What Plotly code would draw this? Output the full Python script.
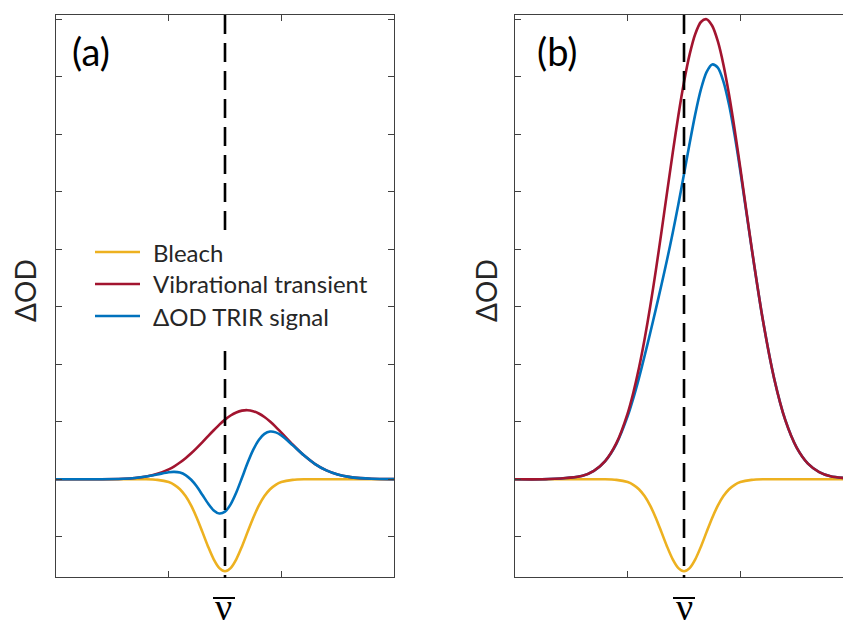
import plotly.graph_objects as go

# Wavenumber grid (arbitrary units, line centre at 1.5)
x_nu = [0.0, 0.3, 0.6, 0.7, 0.8, 0.9, 1.0, 1.05, 1.1, 1.15, 1.2, 1.25, 1.3, 1.35,
        1.4, 1.45, 1.5, 1.55, 1.6, 1.65, 1.7, 1.75, 1.8, 1.85, 1.9, 1.95, 2.0,
        2.1, 2.2, 2.3, 2.4, 2.5, 2.6, 2.7, 2.8, 3.0]

# Ground-state bleach (same in both panels)
bleach = [0.0, 0.0, 0.0, 0.0, 0.0, -0.011, -0.05, -0.097, -0.174, -0.293, -0.46,
          -0.673, -0.92, -1.172, -1.393, -1.545, -1.6, -1.545, -1.393, -1.172,
          -0.92, -0.673, -0.46, -0.293, -0.174, -0.097, -0.05, -0.011, 0.0, 0.0,
          0.0, 0.0, 0.0, 0.0, 0.0, 0.0]

# Vibrational transient, weak (a) and strong (b)
transient_a = [0.0, 0.0, 0.009, 0.022, 0.047, 0.094, 0.172, 0.225, 0.29, 0.365,
               0.45, 0.545, 0.645, 0.749, 0.851, 0.949, 1.036, 1.108, 1.161,
               1.192, 1.2, 1.182, 1.142, 1.081, 1.002, 0.911, 0.811, 0.604,
               0.415, 0.263, 0.153, 0.082, 0.041, 0.019, 0.008, 0.001]
transient_b = [0.0, 0.003, 0.062, 0.146, 0.315, 0.626, 1.146, 1.503, 1.932, 2.434,
               3.002, 3.63, 4.3, 4.991, 5.676, 6.324, 6.904, 7.385, 7.74, 7.948,
               7.997, 7.883, 7.614, 7.206, 6.682, 6.071, 5.405, 4.028, 2.767,
               1.752, 1.022, 0.55, 0.272, 0.125, 0.052, 0.007]

line_centre = 1.5
legend_labels = ["Bleach", "Vibrational transient", "\u0394OD TRIR signal"]
panel_labels = ["(a)", "(b)"]

YELLOW, RED, BLUE = "#EDB120", "#A2142F", "#0072BD"
AXC = "#404040"
TXT = "#262626"
W, H = 843, 630

# measured TRIR signal = bleach + transient
signal_a = [b + t for b, t in zip(bleach, transient_a)]
signal_b = [b + t for b, t in zip(bleach, transient_b)]

fig = go.Figure()
LW = 2.6


def add(x, y, color, xa, ya, name):
    fig.add_trace(go.Scatter(x=x, y=y, mode="lines", name=name, showlegend=False,
                             line=dict(color=color, width=LW, shape="spline", smoothing=0.8),
                             xaxis=xa, yaxis=ya, hoverinfo="skip"))


# panel (a): bleach, transient, signal on top
add(x_nu, bleach, YELLOW, "x", "y", legend_labels[0])
add(x_nu, transient_a, RED, "x", "y", legend_labels[1])
add(x_nu, signal_a, BLUE, "x", "y", legend_labels[2])
# panel (b): bleach, signal, transient on top
add(x_nu, bleach, YELLOW, "x2", "y2", legend_labels[0])
add(x_nu, signal_b, BLUE, "x2", "y2", legend_labels[2])
add(x_nu, transient_b, RED, "x2", "y2", legend_labels[1])


def px(x):
    return x / W


def py(y):
    return 1 - y / H


top, bottom = 15, 577
yrange = [-1.70, 8.07]
ticky = list(range(-1, 9))

axis_common = dict(showgrid=False, zeroline=False, showticklabels=False,
                   ticks="inside", ticklen=6, tickwidth=1, tickcolor=AXC,
                   linecolor=AXC, linewidth=1, showline=True)

fig.update_layout(
    width=W, height=H, margin=dict(l=0, r=0, t=0, b=0),
    paper_bgcolor="white", plot_bgcolor="white", showlegend=False,
    xaxis=dict(domain=[px(56), px(394)], range=[0, 3], tickvals=[1, 2],
               mirror="ticks", anchor="y", **axis_common),
    yaxis=dict(domain=[py(bottom), py(top)], range=yrange, tickvals=ticky,
               mirror="ticks", anchor="x", **axis_common),
    xaxis2=dict(domain=[px(515), 1.0], range=[0, (W - 515) / 112.67], tickvals=[1, 2],
                mirror="ticks", anchor="y2", **axis_common),
    yaxis2=dict(domain=[py(bottom), py(top)], range=yrange, tickvals=ticky,
                mirror=False, anchor="x2", **axis_common),
)

shapes = []
# dashed line at the band centre
for xr in ["x", "x2"]:
    shapes.append(dict(type="line", xref=xr, yref="paper", x0=line_centre, x1=line_centre,
                       y0=py(top), y1=py(578), layer="above",
                       line=dict(color="black", width=2.6, dash="19px,9px")))

# legend box in panel (a)
shapes.append(dict(type="rect", xref="paper", yref="paper", x0=px(86), x1=px(386),
                   y0=py(342), y1=py(231), layer="above", fillcolor="white",
                   line=dict(width=0)))
row_y = [252, 284, 316]
colors = [YELLOW, RED, BLUE]
annotations = []
for lab, c, ry in zip(legend_labels, colors, row_y):
    shapes.append(dict(type="line", xref="paper", yref="paper", x0=px(95), x1=px(140),
                       y0=py(ry), y1=py(ry), layer="above", line=dict(color=c, width=LW)))
    annotations.append(dict(text=lab, xref="paper", yref="paper", x=px(151), y=py(ry),
                            xanchor="left", yanchor="middle", showarrow=False,
                            font=dict(family="Lato", size=24, color=TXT)))

# panel labels
for lab, lx in zip(panel_labels, [70, 535]):
    annotations.append(dict(text=lab, xref="paper", yref="paper", x=px(lx), y=py(51),
                            xanchor="left", yanchor="middle", showarrow=False,
                            font=dict(family="Lato", size=38, color="black")))

# axis titles: ΔOD and wavenumber ν with an overbar
for ax_x, nu_x in [(25, 224), (486, 684)]:
    annotations.append(dict(text="\u0394OD", xref="paper", yref="paper", x=px(ax_x), y=py(291),
                            xanchor="center", yanchor="middle", textangle=-90, showarrow=False,
                            font=dict(family="Lato", size=28, color=TXT)))
    annotations.append(dict(text="\u03bd", xref="paper", yref="paper", x=px(nu_x), y=0,
                            xanchor="center", yanchor="bottom", showarrow=False,
                            font=dict(family="Liberation Serif", size=38, color="black")))
    shapes.append(dict(type="line", xref="paper", yref="paper", x0=px(nu_x - 11),
                       x1=px(nu_x + 11), y0=py(598), y1=py(598), layer="above",
                       line=dict(color="black", width=2)))

fig.update_layout(shapes=shapes, annotations=annotations)
fig.write_html("out.html")
